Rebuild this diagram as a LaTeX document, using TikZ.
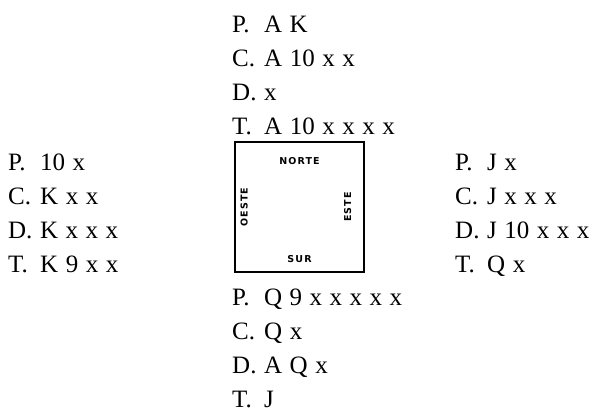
\documentclass[tikz,border=0pt]{standalone}
\usepackage{fontspec}
\setmainfont{Liberation Serif}
\newfontfamily\rosafont[LetterSpace=12]{DejaVu Sans}
\usepackage{array}
\usetikzlibrary{positioning}

\newcommand{\mano}[4]{%
  \spaceskip=.3em\relax
  \begin{tabular}[t]{@{}p{32pt}@{}l@{}}
    P. & #1\\ C. & #2\\ D. & #3\\ T. & #4
  \end{tabular}}

\tikzset{
  hand/.style={anchor=base west, inner sep=0pt,
    font=\fontsize{25}{34}\selectfont},
  rumbo/.style={inner sep=0pt, font=\rosafont\bfseries\fontsize{9.5}{9.5}\selectfont},
}

\begin{document}
\begin{tikzpicture}[x=1pt,y=-1pt]
  \useasboundingbox (0,0) rectangle (596,413);

  % the four hands
  \node[hand] (norte) at (232,32)  {\mano{A K}{A 10 x x}{x}{A 10 x x x x}};
  \node[hand] (oeste) at (8,170)   {\mano{10 x}{K x x}{K x x x}{K 9 x x}};
  \node[hand] (este)  at (455,170) {\mano{J x}{J x x x}{J 10 x x x}{Q x}};
  \node[hand] (sur)   at (232,305) {\mano{Q 9 x x x x x}{Q x}{A Q x}{J}};

  % the table
  \node[draw, line width=1.1pt, minimum width=129pt, minimum height=130pt,
        inner sep=0pt] (mesa) at (299.5,207) {};
  \node[rumbo, below=16pt of mesa.north] (n) {NORTE};
  \node[rumbo, above=10pt of mesa.south] (s) {SUR};
  \node[rumbo, rotate=90, right=6pt of mesa.west, anchor=north] (o) {OESTE};
  \node[rumbo, rotate=90, left=13pt of mesa.east, anchor=south] (e) {ESTE};
\end{tikzpicture}
\end{document}
